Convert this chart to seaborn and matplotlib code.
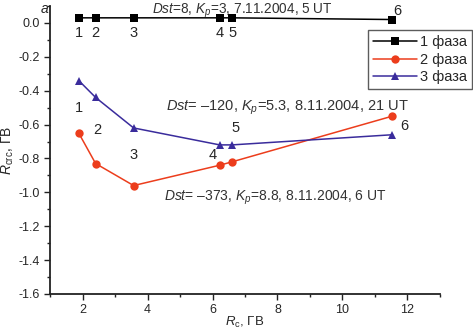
import matplotlib
matplotlib.use("Agg")
import matplotlib.pyplot as plt
import seaborn as sns
import pandas as pd
from matplotlib.ticker import MultipleLocator

rc_x = [1.88, 2.4, 3.57, 6.22, 6.6, 11.54]
phase1 = [0.03, 0.03, 0.03, 0.03, 0.03, 0.02]
phase2 = [-0.65, -0.83, -0.96, -0.84, -0.82, -0.55]
phase3 = [-0.34, -0.44, -0.62, -0.72, -0.72, -0.66]
series_names = ["1 фаза", "2 фаза", "3 фаза"]
point_labels = ["1", "2", "3", "4", "5", "6"]

sns.set_style("ticks")
plt.rcParams['font.family'] = ['Liberation Sans', 'DejaVu Sans']
plt.rcParams['mathtext.fontset'] = 'custom'
plt.rcParams['mathtext.rm'] = 'Liberation Sans'
plt.rcParams['mathtext.it'] = 'Liberation Sans:italic'

df = pd.DataFrame({
    "x": rc_x * 3,
    "y": phase1 + phase2 + phase3,
    "s": [series_names[0]] * 6 + [series_names[1]] * 6 + [series_names[2]] * 6,
})

fig = plt.figure(figsize=(4.73, 3.32), dpi=100)
ax = fig.add_axes([0.106, 0.1145, 0.824, 0.8675])
colors = {series_names[0]: "#000000", series_names[1]: "#ec3d1c", series_names[2]: "#3a2c9c"}
markers = {series_names[0]: "s", series_names[1]: "o", series_names[2]: "^"}
sns.lineplot(data=df, x="x", y="y", hue="s", style="s", palette=colors,
             markers=markers, dashes=False, markersize=6, markeredgewidth=0,
             linewidth=1.1, ax=ax, sort=False)

ax.set_xlim(1, 13)
ax.set_ylim(-1.6, 0.1)
ax.xaxis.set_major_locator(MultipleLocator(2))
ax.xaxis.set_minor_locator(MultipleLocator(1))
ax.yaxis.set_minor_locator(MultipleLocator(0.1))
ax.set_yticks([-1.6, -1.4, -1.2, -1.0, -0.8, -0.6, -0.4, -0.2, 0.0])
ax.set_yticklabels(["-1.6", "-1.4", "-1.2", "-1.0", "-0.8", "-0.6", "-0.4", "-0.2", "0.0"])
ax.tick_params(which="major", length=4, width=1, labelsize=9, color="#222222")
ax.tick_params(which="minor", length=2.5, width=1, color="#222222")
for s in ["top", "right"]:
    ax.spines[s].set_visible(False)
for s in ["left", "bottom"]:
    ax.spines[s].set_linewidth(1.3)
    ax.spines[s].set_color("#222222")

ax.set_xlabel(r"$R_{\mathrm{c}}$, ГВ", fontsize=9.5, labelpad=-1)
ax.set_ylabel(r"$R_{\mathrm{crc}}$, ГВ", fontsize=10, labelpad=2)

# point number labels
top_pos = [(1.88, -0.06), (2.4, -0.06), (3.57, -0.06), (6.22, -0.06), (6.6, -0.06), (11.7, 0.072)]
mid_pos = [(1.88, -0.50), (2.45, -0.63), (3.57, -0.78), (6.0, -0.78), (6.7, -0.62), (11.9, -0.61)]
for lab, (px, py) in zip(point_labels, top_pos):
    ax.text(px, py, lab, fontsize=10.5, ha="center", va="center")
for lab, (px, py) in zip(point_labels, mid_pos):
    ax.text(px, py, lab, fontsize=10.5, ha="center", va="center")

fig.text(0.321, 0.994, r"$\it{Dst}$=8, $\it{K_p}$=3, 7.11.2004, 5 UT", fontsize=9.8, va="top", color="#333333")
ax.text(4.58, -0.50, r"$\it{Dst}$= –120, $\it{K_p}$=5.3, 8.11.2004, 21 UT", fontsize=10.5, va="center", color="#333333")
ax.text(4.52, -1.035, r"$\it{Dst}$= –373, $\it{K_p}$=8.8, 8.11.2004, 6 UT", fontsize=10, va="center", color="#333333")
fig.text(0.085, 0.972, "a", fontsize=10, style="italic", va="center")

leg = ax.legend(loc="upper left", bbox_to_anchor=(0.815, 0.917), fontsize=10.5,
                frameon=True, fancybox=False, edgecolor="#333333",
                handlelength=3.0, borderpad=0.35, labelspacing=0.25, handletextpad=0.2,
                borderaxespad=0)
leg.get_frame().set_linewidth(1)

fig.savefig("out.png", dpi=100)
